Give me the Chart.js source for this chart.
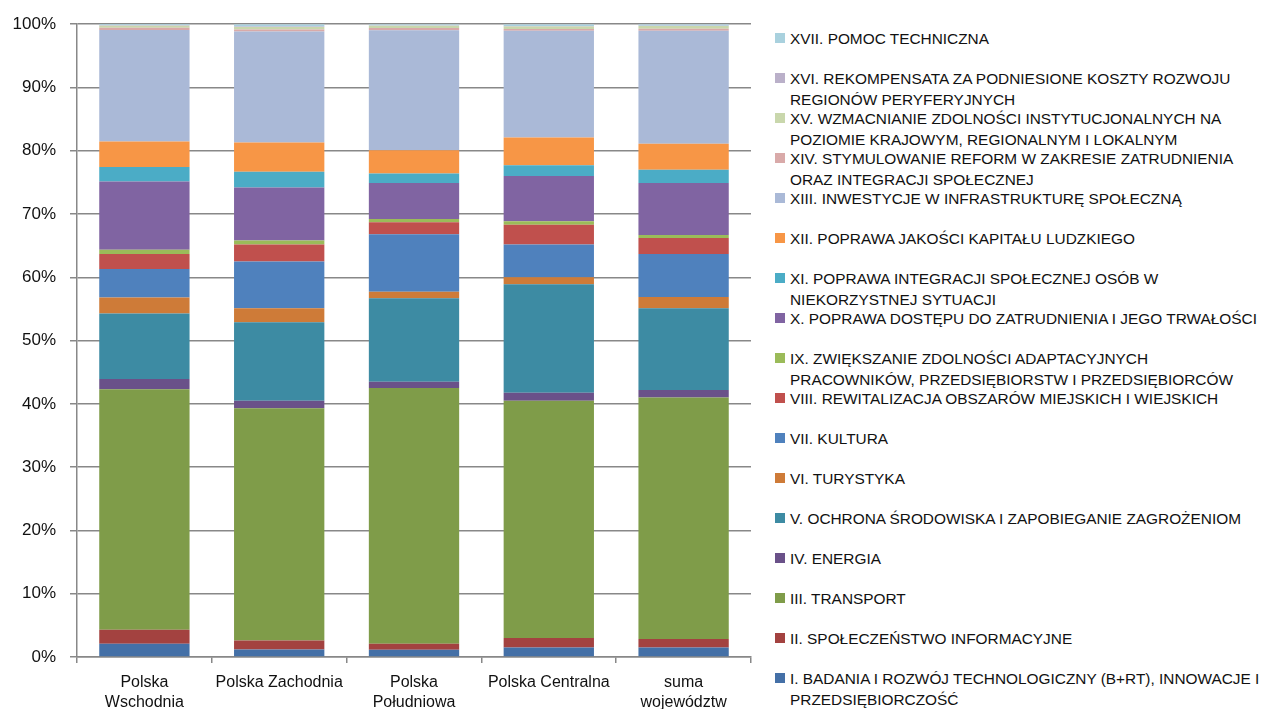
<!DOCTYPE html>
<html>
<head>
<meta charset="utf-8">
<script src="https://cdn.jsdelivr.net/npm/chart.js@4"></script>
<style>
  body { margin: 0; background: #fff; font-family: "Liberation Sans", Arial, sans-serif; }
  #wrap { position: relative; width: 1264px; height: 709px; }
  #chartBox { position: absolute; left: 0; top: 0; width: 760px; height: 709px; }
  #legend { position: absolute; left: 0; top: 0; }
  .item { position: absolute; left: 775px; }
  .box { position: absolute; left: 0; width: 10px; height: 10px; }
  .txt { position: absolute; left: 15px; white-space: nowrap; font-size: 15.4px; line-height: 21px; color: #111; }
</style>
</head>
<body>
<div id="wrap">
  <div id="chartBox"><canvas id="priorityChart" width="760" height="709"></canvas></div>
  <div id="legend"></div>
</div>
<script>
// regions on the x axis (array = label split on two lines)
const categories = [['Polska', 'Wschodnia'], 'Polska Zachodnia', ['Polska', 'Południowa'], 'Polska Centralna', ['suma', 'województw']];

// share of each priority axis, % of total
const badania      = [2.1, 1.2, 1.15, 1.5, 1.5];
const spoleczenstwo = [2.2, 1.4, 0.95, 1.5, 1.35];
const transport    = [38.0, 36.7, 40.4, 37.5, 38.15];
const energia      = [1.65, 1.2, 1.0, 1.25, 1.2];
const srodowisko   = [10.35, 12.4, 13.2, 17.15, 12.9];
const turystyka    = [2.5, 2.2, 1.0, 1.1, 1.8];
const kultura      = [4.5, 7.4, 9.1, 5.2, 6.8];
const rewitalizacja = [2.4, 2.7, 1.9, 3.1, 2.5];
const adaptacja    = [0.65, 0.6, 0.5, 0.55, 0.5];
const zatrudnienie = [10.8, 8.4, 5.7, 7.15, 8.2];
const integracja   = [2.3, 2.5, 1.5, 1.7, 2.1];
const kapital      = [4.0, 4.6, 3.7, 4.4, 4.1];
const infrastruktura = [17.65, 17.55, 18.95, 16.85, 17.85];
const reformy      = [0.35, 0.3, 0.35, 0.3, 0.35];
const instytucje   = [0.3, 0.4, 0.35, 0.4, 0.4];
const rekompensata = [0.1, 0.1, 0.05, 0.05, 0.05];
const pomoc        = [0.2, 0.35, 0.2, 0.3, 0.25];

// legend labels, lines as they wrap in the original
const seriesLabels = [
  ['I. BADANIA I ROZWÓJ TECHNOLOGICZNY (B+RT), INNOWACJE I', 'PRZEDSIĘBIORCZOŚĆ'],
  ['II. SPOŁECZEŃSTWO INFORMACYJNE'],
  ['III. TRANSPORT'],
  ['IV. ENERGIA'],
  ['V. OCHRONA ŚRODOWISKA I ZAPOBIEGANIE ZAGROŻENIOM'],
  ['VI. TURYSTYKA'],
  ['VII. KULTURA'],
  ['VIII. REWITALIZACJA OBSZARÓW MIEJSKICH I WIEJSKICH'],
  ['IX. ZWIĘKSZANIE ZDOLNOŚCI ADAPTACYJNYCH', 'PRACOWNIKÓW, PRZEDSIĘBIORSTW I PRZEDSIĘBIORCÓW'],
  ['X. POPRAWA DOSTĘPU DO ZATRUDNIENIA I JEGO TRWAŁOŚCI'],
  ['XI. POPRAWA INTEGRACJI SPOŁECZNEJ OSÓB W', 'NIEKORZYSTNEJ SYTUACJI'],
  ['XII. POPRAWA JAKOŚCI KAPITAŁU LUDZKIEGO'],
  ['XIII. INWESTYCJE W INFRASTRUKTURĘ SPOŁECZNĄ'],
  ['XIV. STYMULOWANIE REFORM W ZAKRESIE ZATRUDNIENIA', 'ORAZ INTEGRACJI SPOŁECZNEJ'],
  ['XV. WZMACNIANIE ZDOLNOŚCI INSTYTUCJONALNYCH NA', 'POZIOMIE KRAJOWYM, REGIONALNYM I LOKALNYM'],
  ['XVI. REKOMPENSATA ZA PODNIESIONE KOSZTY ROZWOJU', 'REGIONÓW PERYFERYJNYCH'],
  ['XVII. POMOC TECHNICZNA']
];

const seriesValues = [badania, spoleczenstwo, transport, energia, srodowisko, turystyka, kultura,
  rewitalizacja, adaptacja, zatrudnienie, integracja, kapital, infrastruktura, reformy, instytucje,
  rekompensata, pomoc];

const seriesColors = [
  '#4470A7', '#A34240', '#7F9C49', '#6A5189', '#3D8BA3', '#CE7B38',
  '#4F81BD', '#C0504D', '#9BBB59', '#8064A2', '#4BACC6', '#F79646',
  '#AAB9D7', '#D9AAA9', '#C9D7AC', '#BAB0C9', '#A9D1DE'
];

const yTicks = [0, 10, 20, 30, 40, 50, 60, 70, 80, 90, 100];

const gridGrey = '#888888';

const datasets = seriesValues.map((vals, i) => ({
  label: seriesLabels[i].join(' '),
  data: vals,
  backgroundColor: seriesColors[i],
  borderWidth: 0,
  barPercentage: 0.67,
  categoryPercentage: 1.0
}));

const ctx = document.getElementById('priorityChart').getContext('2d');
const priorityChart = new Chart(ctx, {
  type: 'bar',
  data: { labels: categories, datasets: datasets },
  options: {
    responsive: false,
    animation: false,
    layout: { padding: { top: 23, right: 9, left: 0, bottom: 0 } },
    plugins: {
      legend: { display: false },
      tooltip: { enabled: false }
    },
    scales: {
      x: {
        stacked: true,
        grid: { drawOnChartArea: false, color: gridGrey, lineWidth: 1.5, tickLength: 6 },
        border: { color: gridGrey, width: 1.5 },
        ticks: {
          color: '#111',
          padding: 10,
          maxRotation: 0,
          autoSkip: false,
          font: { family: '"Liberation Sans", Arial, sans-serif', size: 16, lineHeight: 1.25 }
        },
        afterFit: s => { s.height = 52; }
      },
      y: {
        stacked: true,
        min: 0,
        max: 100,
        afterBuildTicks: s => { s.ticks = yTicks.map(v => ({ value: v })); },
        grid: { color: gridGrey, lineWidth: 1.5, tickLength: 7 },
        border: { color: gridGrey, width: 1.5 },
        ticks: {
          color: '#111',
          padding: 14,
          callback: v => v + '%',
          font: { family: '"Liberation Sans", Arial, sans-serif', size: 17 }
        },
        afterFit: s => { s.width = 77; }
      }
    }
  }
});

// legend on the right, last series on top like the original
const legendEl = document.getElementById('legend');
for (let k = 0; k < seriesLabels.length; k++) {
  const i = seriesLabels.length - 1 - k;
  const cy = 38 + 40 * k;
  const item = document.createElement('div');
  item.className = 'item';
  item.style.top = (cy - 10.5) + 'px';
  const box = document.createElement('div');
  box.className = 'box';
  box.style.top = '5.5px';
  box.style.background = seriesColors[i];
  const txt = document.createElement('div');
  txt.className = 'txt';
  txt.innerHTML = seriesLabels[i].join('<br>');
  item.appendChild(box);
  item.appendChild(txt);
  legendEl.appendChild(item);
}
</script>
</body>
</html>
